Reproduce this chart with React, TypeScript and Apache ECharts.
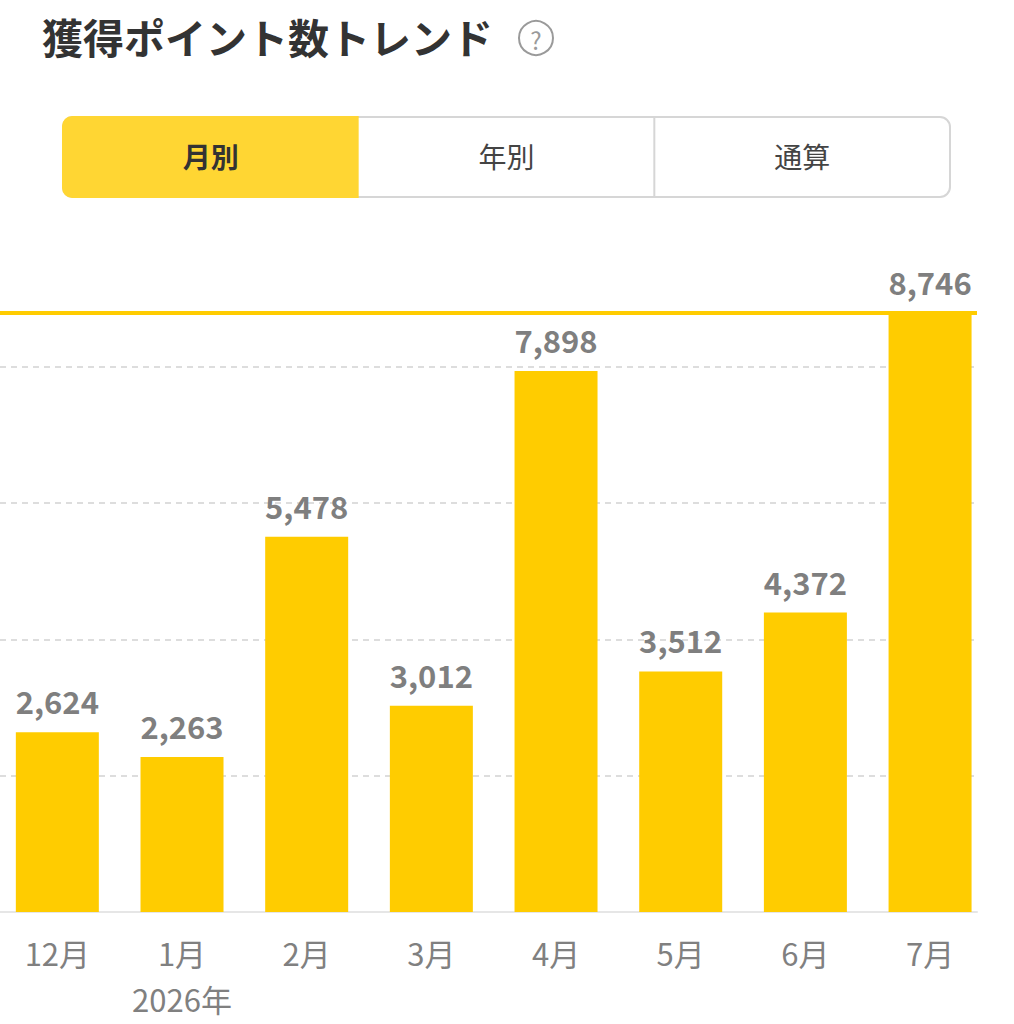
import React, { useEffect, useRef } from "react";
import * as echarts from "echarts";

const categories = ["12月", "1月\n2026年", "2月", "3月", "4月", "5月", "6月", "7月"];
const points = [2624, 2263, 5478, 3012, 7898, 3512, 4372, 8746];
const tabs = ["月別", "年別", "通算"];
const titleText = "獲得ポイント数トレンド";

const FONT = '"Noto Sans CJK JP", "Noto Sans", sans-serif';
// the chart canvas is shifted 5px to the left of the page so the first bar band can start off-screen
const SHIFT = 5;

export default function App() {
  const ref = useRef<HTMLDivElement>(null);
  useEffect(() => {
    if (!ref.current) return;
    const chart = echarts.init(ref.current, null, { renderer: "svg" });
    const tabX = 63 + SHIFT, tabY = 117, tabW = 887, tabH = 80;
    const seg = tabW / 3;
    const option: any = {
      animation: false,
      backgroundColor: "#ffffff",
      textStyle: { fontFamily: FONT },
      grid: [
        { left: 0, right: 26.6, top: 230.5, bottom: 112 },
        { left: SHIFT, right: 42, top: 230.5, bottom: 112 },
      ],
      xAxis: [
        {
          type: "category",
          gridIndex: 0,
          data: categories,
          axisLine: { show: false },
          axisTick: { show: false },
          axisLabel: {
            color: "#808080",
            fontSize: 31,
            lineHeight: 46,
            margin: 17,
            fontFamily: FONT,
            interval: 0,
          },
        },
        {
          type: "category",
          gridIndex: 1,
          data: categories,
          axisLine: { show: true, lineStyle: { color: "#e6e6e6", width: 2 } },
          axisTick: { show: false },
          axisLabel: { show: false },
        },
      ],
      yAxis: [
        {
          type: "value",
          gridIndex: 0,
          min: 0,
          max: 9950,
          interval: 1990,
          axisLabel: { show: false },
          axisLine: { show: false },
          axisTick: { show: false },
          splitLine: { show: false },
        },
        {
          type: "value",
          gridIndex: 1,
          min: 0,
          max: 9950,
          interval: 1990,
          axisLabel: { show: false },
          axisLine: { show: false },
          axisTick: { show: false },
          splitLine: {
            show: true,
            showMinLine: false,
            showMaxLine: false,
            lineStyle: { color: "#dddddd", width: 2, type: [6, 5] },
          },
        },
      ],
      series: [
        {
          type: "bar",
          xAxisIndex: 0,
          yAxisIndex: 0,
          data: points,
          barWidth: 83,
          itemStyle: { color: "#FFCC00" },
          label: {
            show: true,
            position: "top",
            distance: 16,
            color: "#7f7f7f",
            fontSize: 31,
            fontWeight: "bold",
            fontFamily: FONT,
            formatter: (p: any) => Number(p.value).toLocaleString("en-US"),
          },
          z: 3,
        },
        {
          type: "line",
          xAxisIndex: 1,
          yAxisIndex: 1,
          data: points,
          symbol: "none",
          silent: true,
          lineStyle: { opacity: 0 },
          z: 4,
          markLine: {
            silent: true,
            symbol: "none",
            label: { show: false },
            lineStyle: { color: "#FFCC00", width: 4, type: "solid" },
            data: [{ type: "max" }],
          },
        },
      ],
      graphic: [
        {
          type: "text",
          left: 42 + SHIFT,
          top: 15,
          style: {
            text: titleText,
            font: `bold 41px ${FONT}`,
            fill: "#333333",
          },
        },
        {
          type: "circle",
          shape: { cx: 536 + SHIFT, cy: 38, r: 17 },
          style: { fill: "none", stroke: "#9a9a9a", lineWidth: 2 },
        },
        {
          type: "text",
          x: 536 + SHIFT,
          y: 39,
          style: {
            text: "?",
            font: `24px ${FONT}`,
            fill: "#9a9a9a",
            align: "center",
            verticalAlign: "middle",
          },
        },
        {
          type: "rect",
          shape: { x: tabX, y: tabY, width: tabW, height: tabH, r: 10 },
          style: { fill: "#ffffff", stroke: "#d6d6d6", lineWidth: 2 },
        },
        {
          type: "rect",
          shape: { x: tabX - 1, y: tabY - 1, width: seg + 1, height: tabH + 2, r: [10, 0, 0, 10] },
          style: { fill: "#FFD633" },
        },
        {
          type: "line",
          shape: { x1: tabX + seg * 2, y1: tabY, x2: tabX + seg * 2, y2: tabY + tabH },
          style: { stroke: "#d6d6d6", lineWidth: 2 },
        },
        ...tabs.map((t, i) => ({
          type: "text",
          x: tabX + seg * i + seg / 2,
          y: tabY + tabH / 2 - 1,
          style: {
            text: t,
            font: `${i === 0 ? "bold " : ""}28px ${FONT}`,
            fill: i === 0 ? "#333333" : "#444444",
            align: "center",
            verticalAlign: "middle",
          },
        })),
      ],
    };
    chart.setOption(option);
    return () => chart.dispose();
  }, []);
  return (
    <div
      ref={ref}
      style={{ position: "fixed", left: -SHIFT, top: 0, width: 1014 + 10, height: 1024 }}
    />
  );
}
